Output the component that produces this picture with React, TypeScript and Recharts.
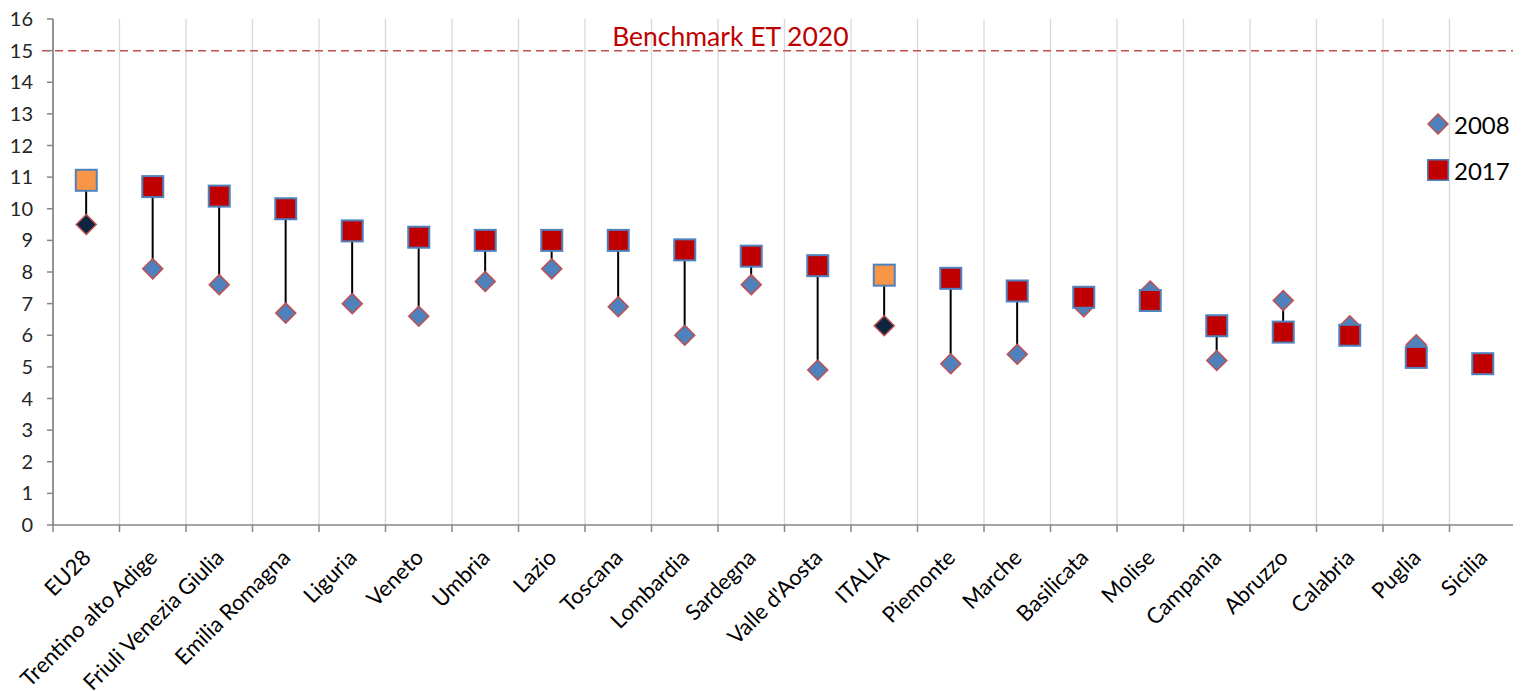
import React from 'react';
import {
  ComposedChart,
  Bar,
  Scatter,
  XAxis,
  YAxis,
  CartesianGrid,
  ReferenceLine,
  Legend,
} from 'recharts';

// Early leavers from education (%) by region, 2008 vs 2017
const REGIONS = [
  'EU28', 'Trentino alto Adige', 'Friuli Venezia Giulia', 'Emilia Romagna', 'Liguria',
  'Veneto', 'Umbria', 'Lazio', 'Toscana', 'Lombardia', 'Sardegna', "Valle d'Aosta",
  'ITALIA', 'Piemonte', 'Marche', 'Basilicata', 'Molise', 'Campania', 'Abruzzo',
  'Calabria', 'Puglia', 'Sicilia',
];
const VALUES_2008 = [9.5, 8.1, 7.6, 6.7, 7.0, 6.6, 7.7, 8.1, 6.9, 6.0, 7.6, 4.9, 6.3, 5.1, 5.4, 6.9, 7.4, 5.2, 7.1, 6.3, 5.7, 5.1];
const VALUES_2017 = [10.9, 10.7, 10.4, 10.0, 9.3, 9.1, 9.0, 9.0, 9.0, 8.7, 8.5, 8.2, 7.9, 7.8, 7.4, 7.2, 7.1, 6.3, 6.1, 6.0, 5.3, 5.1];
const HIGHLIGHTED = ['EU28', 'ITALIA'];
const Y_TICKS = [0, 1, 2, 3, 4, 5, 6, 7, 8, 9, 10, 11, 12, 13, 14, 15, 16];
const BENCHMARK = 15;
const BENCHMARK_LABEL = 'Benchmark ET 2020';
const SERIES = ['2008', '2017'];

const data = REGIONS.map((name, i) => ({
  name,
  y2008: VALUES_2008[i],
  y2017: VALUES_2017[i],
}));

const FONT = 'Lato, "Open Sans", sans-serif';
const WIDTH = 1513;
const HEIGHT = 683;
const MARGIN = { top: 11, right: 5, left: 0, bottom: 0 };
const Y_AXIS_WIDTH = 45;
const PLOT_WIDTH = WIDTH - MARGIN.left - MARGIN.right - Y_AXIS_WIDTH;
const BAND = PLOT_WIDTH / REGIONS.length;
const AXIS_COLOR = '#868686';

const isHighlighted = (p: any) => HIGHLIGHTED.includes(p?.name);

function Diamond({ cx, cy, fill }: { cx: number; cy: number; fill: string }) {
  const r = 10;
  return (
    <path
      d={`M${cx},${cy - r}L${cx + r},${cy}L${cx},${cy + r}L${cx - r},${cy}Z`}
      fill={fill}
      stroke="#c0504d"
      strokeWidth={1.5}
    />
  );
}

function Square({ cx, cy, fill }: { cx: number; cy: number; fill: string }) {
  const s = 21;
  return <rect x={cx - s / 2} y={cy - s / 2} width={s} height={s} fill={fill} stroke="#4f81bd" strokeWidth={2} />;
}

const shape2008 = (props: any) => (
  <Diamond cx={props.cx} cy={props.cy} fill={isHighlighted(props.payload) ? '#0f243e' : '#4f81bd'} />
);
const shape2017 = (props: any) => (
  <Square cx={props.cx} cy={props.cy} fill={isHighlighted(props.payload) ? '#f79646' : '#c00000'} />
);

// vertical connector drawn through the middle of a floating bar
const Connector = (props: any) => {
  const { x, y, width, height } = props;
  const cx = x + width / 2;
  return <line x1={cx} x2={cx} y1={y} y2={y + height} stroke="#000" strokeWidth={2} />;
};

const CategoryTick = (props: any) => {
  const { x, y, payload, index } = props;
  const isLast = index === REGIONS.length - 1;
  return (
    <g>
      <line x1={x - BAND / 2} x2={x - BAND / 2} y1={y} y2={y + 7} stroke={AXIS_COLOR} strokeWidth={1.5} />
      {isLast && <line x1={x + BAND / 2} x2={x + BAND / 2} y1={y} y2={y + 7} stroke={AXIS_COLOR} strokeWidth={1.5} />}
      <text
        x={0}
        y={0}
        transform={`translate(${x + 6},${y + 34}) rotate(-45)`}
        textAnchor="end"
        fontFamily={FONT}
        fontSize={22}
        fill="#000"
      >
        {payload.value}
      </text>
    </g>
  );
};

const BenchmarkLabel = (props: any) => {
  const { viewBox } = props;
  return (
    <text
      x={viewBox.x + viewBox.width * 0.463}
      y={viewBox.y - 5}
      textAnchor="middle"
      fontFamily={FONT}
      fontSize={26.5}
      fill="#c00000"
    >
      {BENCHMARK_LABEL}
    </text>
  );
};

const BenchmarkLine = (props: any) => (
  <line
    x1={props.x1 - 11}
    x2={props.x2}
    y1={props.y1}
    y2={props.y2}
    stroke="#c0504d"
    strokeWidth={1.5}
    strokeDasharray="8 5"
  />
);

const LegendContent = () => (
  <div style={{ fontFamily: FONT, fontSize: 24, color: '#000' }}>
    {SERIES.map((label, i) => (
      <div key={label} style={{ display: 'flex', alignItems: 'center', height: 46 }}>
        <svg width={22} height={22} style={{ marginRight: 5 }}>
          {i === 0 ? <Diamond cx={11} cy={11} fill="#4f81bd" /> : <Square cx={11} cy={11} fill="#c00000" />}
        </svg>
        <span>{label}</span>
      </div>
    ))}
  </div>
);

export default function App() {
  return (
    <div style={{ width: WIDTH, height: HEIGHT, background: '#fff' }}>
      <ComposedChart width={WIDTH} height={HEIGHT} data={data} margin={MARGIN}>
        <CartesianGrid
          horizontal={false}
          stroke="#d9d9d9"
          strokeWidth={1.3}
          verticalCoordinatesGenerator={({ offset }: any) =>
            Array.from({ length: REGIONS.length + 1 }, (_, i) => offset.left + (i * offset.width) / REGIONS.length)
          }
        />
        <XAxis
          dataKey="name"
          interval={0}
          height={HEIGHT - MARGIN.top - 506}
          tick={<CategoryTick />}
          tickLine={false}
          tickSize={0}
          tickMargin={0}
          axisLine={{ stroke: AXIS_COLOR, strokeWidth: 1.7 }}
        />
        <YAxis
          domain={[0, 16]}
          ticks={Y_TICKS}
          interval={0}
          width={Y_AXIS_WIDTH}
          tickSize={6}
          tickMargin={14}
          tickLine={{ stroke: AXIS_COLOR, strokeWidth: 1.5 }}
          axisLine={{ stroke: AXIS_COLOR, strokeWidth: 1.7 }}
          tick={{ fontFamily: FONT, fontSize: 20, fill: '#262626' }}
        />
        <ReferenceLine y={BENCHMARK} shape={BenchmarkLine} label={<BenchmarkLabel />} />
        <Bar
          dataKey={(d: any) => [Math.min(d.y2008, d.y2017), Math.max(d.y2008, d.y2017)]}
          shape={Connector}
          legendType="none"
          isAnimationActive={false}
        />
        <Scatter dataKey="y2008" name="2008" shape={shape2008} isAnimationActive={false} />
        <Scatter dataKey="y2017" name="2017" shape={shape2017} isAnimationActive={false} />
        <Legend
          layout="vertical"
          align="center"
          verticalAlign="middle"
          content={<LegendContent />}
          wrapperStyle={{ top: 93, left: 1419, width: 100 }}
        />
      </ComposedChart>
    </div>
  );
}
